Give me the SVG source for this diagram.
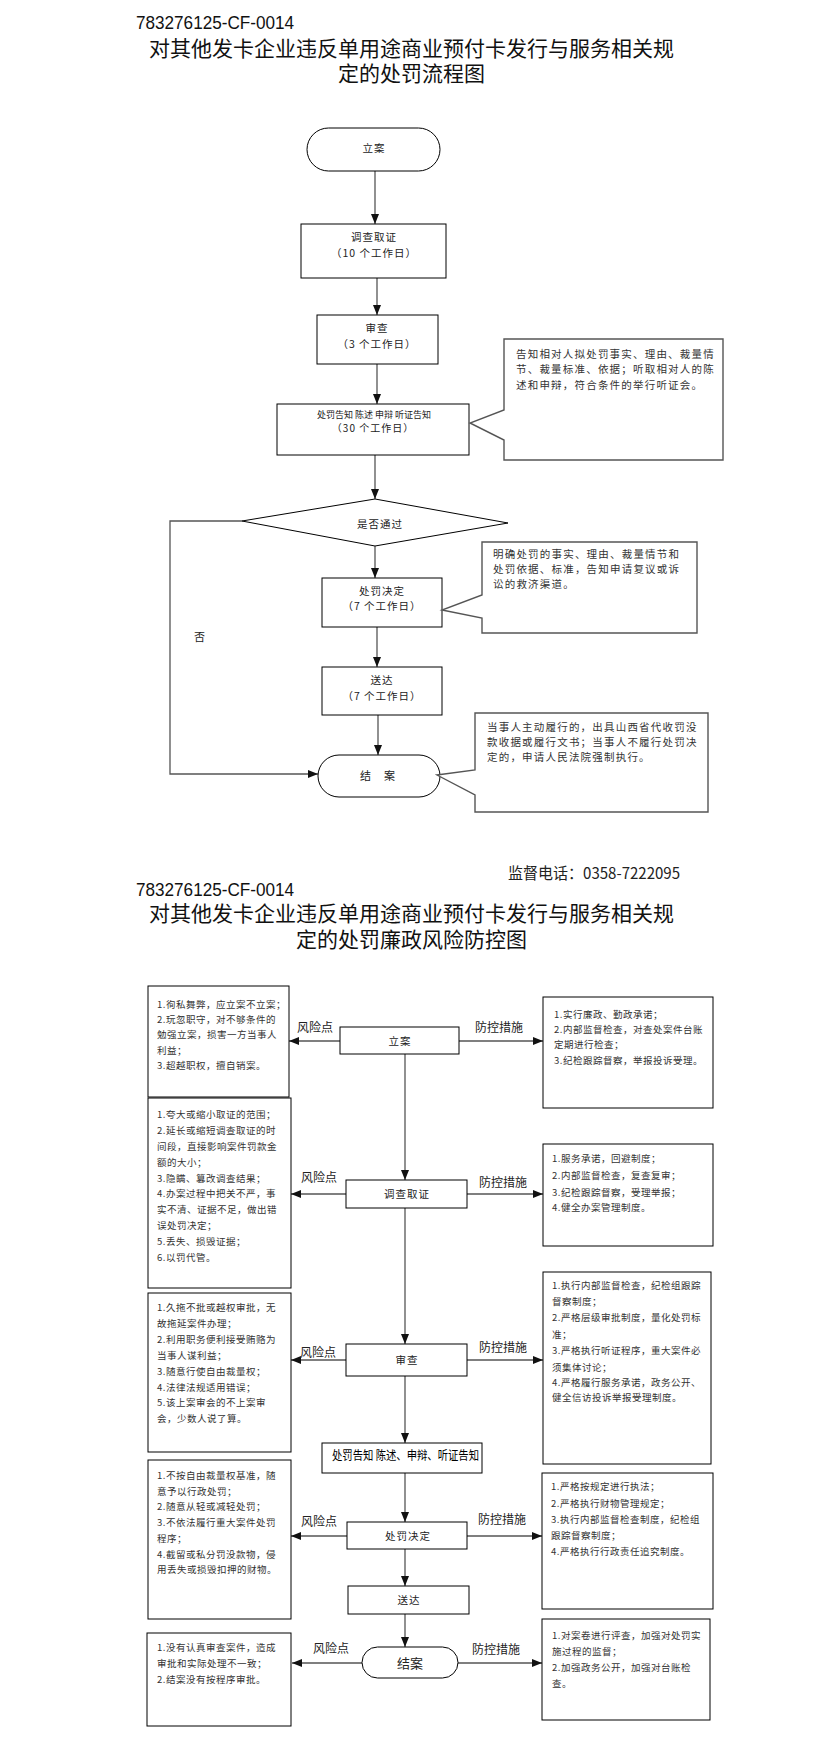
<svg xmlns="http://www.w3.org/2000/svg" width="823" height="1741" viewBox="0 0 823 1741">
<style>
text{font-family:"Noto Sans CJK SC","Noto Sans",sans-serif;fill:#222}
.h{font-size:21px;text-anchor:middle;fill:#111}
.code{font-family:"Liberation Sans",sans-serif;font-size:19px;fill:#111}
.n{font-size:10.5px;letter-spacing:1px;text-anchor:middle}
.c{font-size:10.5px;letter-spacing:1.2px;fill:#333}
.s{font-size:9.5px;letter-spacing:.5px;fill:#333}
.lab{font-size:12px;text-anchor:middle}
.m{font-size:11px;letter-spacing:1px;text-anchor:middle}
.bx{fill:#fff;stroke:#000;stroke-width:1}
.co{fill:#fff;stroke:#555;stroke-width:1.4}
.ln{stroke:#555;stroke-width:1.3;fill:none}
</style>
<defs>
<marker id="ar" markerUnits="userSpaceOnUse" markerWidth="10" markerHeight="8" refX="10" refY="4" orient="auto">
<path d="M0,0 L10,4 L0,8 z" fill="#111"/>
</marker>
</defs>
<rect width="823" height="1741" fill="#fff"/>

<!-- Top title -->
<text class="code" x="136" y="29" textLength="158" lengthAdjust="spacingAndGlyphs">783276125-CF-0014</text>
<text class="h" x="411.5" y="56">对其他发卡企业违反单用途商业预付卡发行与服务相关规</text>
<text class="h" x="411.5" y="81">定的处罚流程图</text>

<!-- Top flowchart connectors -->
<g id="connectors-top">
<line class="ln" x1="375" y1="171" x2="375" y2="224" marker-end="url(#ar)"/>
<line class="ln" x1="377" y1="278" x2="377" y2="315" marker-end="url(#ar)"/>
<line class="ln" x1="377" y1="364" x2="377" y2="404" marker-end="url(#ar)"/>
<line class="ln" x1="375" y1="455" x2="375" y2="499" marker-end="url(#ar)"/>
<line class="ln" x1="375" y1="546" x2="375" y2="578" marker-end="url(#ar)"/>
<line class="ln" x1="377" y1="627" x2="377" y2="667" marker-end="url(#ar)"/>
<line class="ln" x1="378" y1="715" x2="378" y2="755" marker-end="url(#ar)"/>
<polyline class="ln" points="242,521 170,521 170,774 318,774" marker-end="url(#ar)"/>
</g>

<g id="t-lian">
<rect class="bx" x="307" y="128" width="133" height="43" rx="21.5"/>
<text class="n" x="374" y="152">立案</text>
</g>
<g id="t-diaocha">
<rect class="bx" x="301" y="224" width="145" height="54"/>
<text class="n" x="374" y="241">调查取证</text>
<text class="n" x="374" y="257">（10 个工作日）</text>
</g>
<g id="t-shencha">
<rect class="bx" x="317" y="315" width="121" height="49"/>
<text class="n" x="377" y="332">审查</text>
<text class="n" x="377" y="348">（3 个工作日）</text>
</g>
<g id="t-gaozhi">
<rect class="bx" x="277" y="404" width="192" height="51"/>
<text x="374" y="418" style="font-size:9px;text-anchor:middle">处罚告知 陈述 申辩 听证告知</text>
<text class="n" x="373" y="432" style="font-size:10px">（30 个工作日）</text>
</g>
<g id="t-callout1">
<path class="co" d="M504,339 H723 V460 H504 V440 L470,423 L504,410 Z"/>
<text class="c" x="516" y="358">告知相对人拟处罚事实、理由、裁量情</text>
<text class="c" x="516" y="373">节、裁量标准、依据；听取相对人的陈</text>
<text class="c" x="516" y="389">述和申辩，符合条件的举行听证会。</text>
</g>
<g id="t-decision">
<polygon class="bx" points="375,499 508,523 375,546 242,521"/>
<text class="n" x="380" y="528">是否通过</text>
</g>
<text class="m" x="200" y="641">否</text>
<g id="t-jueding">
<rect class="bx" x="322" y="578" width="120" height="49"/>
<text class="n" x="382" y="595">处罚决定</text>
<text class="n" x="382" y="610">（7 个工作日）</text>
</g>
<g id="t-callout2">
<path class="co" d="M482,542 H697 V633 H482 V618 L442,610 L482,595 Z"/>
<text class="c" x="493" y="558">明确处罚的事实、理由、裁量情节和</text>
<text class="c" x="493" y="573">处罚依据、标准，告知申请复议或诉</text>
<text class="c" x="493" y="588">讼的救济渠道。</text>
</g>
<g id="t-songda">
<rect class="bx" x="322" y="667" width="120" height="48"/>
<text class="n" x="382" y="684">送达</text>
<text class="n" x="382" y="700">（7 个工作日）</text>
</g>
<g id="t-jiean">
<rect class="bx" x="318" y="755" width="122" height="42" rx="21"/>
<text class="m" x="378" y="780">结　案</text>
</g>
<g id="t-callout3">
<path class="co" d="M475,713 H708 V812 H475 V795 L437,775 L475,770 Z"/>
<text class="c" x="487" y="731">当事人主动履行的，出具山西省代收罚没</text>
<text class="c" x="487" y="746">款收据或履行文书；当事人不履行处罚决</text>
<text class="c" x="487" y="761">定的，申请人民法院强制执行。</text>
</g>

<!-- Lower section -->
<text x="508" y="879" style="font-size:15.5px" textLength="172" lengthAdjust="spacingAndGlyphs">监督电话：0358-7222095</text>
<text class="code" x="136" y="896" textLength="158" lengthAdjust="spacingAndGlyphs">783276125-CF-0014</text>
<text class="h" x="411.5" y="921">对其他发卡企业违反单用途商业预付卡发行与服务相关规</text>
<text class="h" x="411.5" y="947">定的处罚廉政风险防控图</text>

<g id="connectors-bottom">
<line class="ln" x1="405" y1="1054" x2="405" y2="1180" marker-end="url(#ar)"/>
<line class="ln" x1="405" y1="1208" x2="405" y2="1344" marker-end="url(#ar)"/>
<line class="ln" x1="405" y1="1376" x2="405" y2="1443" marker-end="url(#ar)"/>
<line class="ln" x1="405" y1="1473" x2="405" y2="1522" marker-end="url(#ar)"/>
<line class="ln" x1="405" y1="1549" x2="405" y2="1586" marker-end="url(#ar)"/>
<line class="ln" x1="405" y1="1614" x2="405" y2="1647" marker-end="url(#ar)"/>
<line class="ln" x1="340" y1="1041" x2="289" y2="1041" marker-end="url(#ar)"/>
<line class="ln" x1="459" y1="1041" x2="543" y2="1041" marker-end="url(#ar)"/>
<line class="ln" x1="346" y1="1194" x2="291" y2="1194" marker-end="url(#ar)"/>
<line class="ln" x1="467" y1="1194" x2="543" y2="1194" marker-end="url(#ar)"/>
<line class="ln" x1="346" y1="1360" x2="291" y2="1360" marker-end="url(#ar)"/>
<line class="ln" x1="467" y1="1360" x2="543" y2="1360" marker-end="url(#ar)"/>
<line class="ln" x1="347" y1="1536" x2="291" y2="1536" marker-end="url(#ar)"/>
<line class="ln" x1="467" y1="1536" x2="542" y2="1536" marker-end="url(#ar)"/>
<line class="ln" x1="362" y1="1663" x2="292" y2="1663" marker-end="url(#ar)"/>
<line class="ln" x1="458" y1="1663" x2="542" y2="1663" marker-end="url(#ar)"/>
<text class="lab" x="315" y="1032">风险点</text>
<text class="lab" x="499" y="1032">防控措施</text>
<text class="lab" x="319" y="1182">风险点</text>
<text class="lab" x="503" y="1187">防控措施</text>
<text class="lab" x="318" y="1357">风险点</text>
<text class="lab" x="503" y="1352">防控措施</text>
<text class="lab" x="319" y="1526">风险点</text>
<text class="lab" x="502" y="1524">防控措施</text>
<text class="lab" x="331" y="1653">风险点</text>
<text class="lab" x="496" y="1654">防控措施</text>
</g>

<g id="b-lian">
<rect class="bx" x="340" y="1027" width="119" height="27"/>
<text class="n" x="400" y="1045">立案</text>
</g>
<g id="b-diaocha">
<rect class="bx" x="346" y="1180" width="121" height="28"/>
<text class="n" x="407" y="1198">调查取证</text>
</g>
<g id="b-shencha">
<rect class="bx" x="346" y="1344" width="121" height="32"/>
<text class="n" x="407" y="1364">审查</text>
</g>
<g id="b-gaozhi">
<rect class="bx" x="322" y="1443" width="160" height="30"/>
<text x="332" y="1460" style="font-size:12.5px;fill:#000" textLength="147" lengthAdjust="spacingAndGlyphs">处罚告知 陈述、申辩、听证告知</text>
</g>
<g id="b-jueding">
<rect class="bx" x="347" y="1522" width="120" height="27"/>
<text class="n" x="408" y="1540">处罚决定</text>
</g>
<g id="b-songda">
<rect class="bx" x="348" y="1586" width="121" height="28"/>
<text class="n" x="409" y="1604">送达</text>
</g>
<g id="b-jiean">
<rect class="bx" x="362" y="1647" width="96" height="31" rx="15.5"/>
<text x="410" y="1668" style="font-size:13px;text-anchor:middle">结案</text>
</g>

<g id="risk1">
<rect class="bx" x="148" y="986" width="141" height="111"/>
<text class="s" x="157" y="1008">1.徇私舞弊，应立案不立案；</text>
<text class="s" x="157" y="1023">2.玩忽职守，对不够条件的</text>
<text class="s" x="157" y="1038">勉强立案，损害一方当事人</text>
<text class="s" x="157" y="1054">利益；</text>
<text class="s" x="157" y="1069">3.超越职权，擅自销案。</text>
</g>
<g id="ctrl1">
<rect class="bx" x="543" y="997" width="170" height="111"/>
<text class="s" x="554" y="1018">1.实行廉政、勤政承诺；</text>
<text class="s" x="554" y="1033">2.内部监督检查，对查处案件台账</text>
<text class="s" x="554" y="1048">定期进行检查；</text>
<text class="s" x="554" y="1064">3.纪检跟踪督察，举报投诉受理。</text>
</g>
<g id="risk2">
<rect class="bx" x="148" y="1098" width="143" height="190"/>
<text class="s" x="157" y="1118">1.夸大或缩小取证的范围；</text>
<text class="s" x="157" y="1134">2.延长或缩短调查取证的时</text>
<text class="s" x="157" y="1150">间段，直接影响案件罚款金</text>
<text class="s" x="157" y="1166">额的大小；</text>
<text class="s" x="157" y="1182">3.隐瞒、篡改调查结果；</text>
<text class="s" x="157" y="1197">4.办案过程中把关不严，事</text>
<text class="s" x="157" y="1213">实不清、证据不足，做出错</text>
<text class="s" x="157" y="1229">误处罚决定；</text>
<text class="s" x="157" y="1245">5.丢失、损毁证据；</text>
<text class="s" x="157" y="1261">6.以罚代管。</text>
</g>
<g id="ctrl2">
<rect class="bx" x="543" y="1144" width="170" height="102"/>
<text class="s" x="552" y="1162">1.服务承诺，回避制度；</text>
<text class="s" x="552" y="1179">2.内部监督检查，复查复审；</text>
<text class="s" x="552" y="1196">3.纪检跟踪督察，受理举报；</text>
<text class="s" x="552" y="1211">4.健全办案管理制度。</text>
</g>
<g id="risk3">
<rect class="bx" x="148" y="1293" width="143" height="159"/>
<text class="s" x="157" y="1311">1.久拖不批或越权审批，无</text>
<text class="s" x="157" y="1327">故拖延案件办理；</text>
<text class="s" x="157" y="1343">2.利用职务便利接受贿赂为</text>
<text class="s" x="157" y="1359">当事人谋利益；</text>
<text class="s" x="157" y="1375">3.随意行使自由裁量权；</text>
<text class="s" x="157" y="1391">4.法律法规适用错误；</text>
<text class="s" x="157" y="1406">5.该上案审会的不上案审</text>
<text class="s" x="157" y="1422">会，少数人说了算。</text>
</g>
<g id="ctrl3">
<rect class="bx" x="543" y="1272" width="168" height="192"/>
<text class="s" x="552" y="1289">1.执行内部监督检查，纪检组跟踪</text>
<text class="s" x="552" y="1305">督察制度；</text>
<text class="s" x="552" y="1321">2.严格层级审批制度，量化处罚标</text>
<text class="s" x="552" y="1338">准；</text>
<text class="s" x="552" y="1354">3.严格执行听证程序，重大案件必</text>
<text class="s" x="552" y="1371">须集体讨论；</text>
<text class="s" x="552" y="1386">4.严格履行服务承诺，政务公开、</text>
<text class="s" x="552" y="1401">健全信访投诉举报受理制度。</text>
</g>
<g id="risk4">
<rect class="bx" x="148" y="1460" width="143" height="159"/>
<text class="s" x="157" y="1479">1.不按自由裁量权基准，随</text>
<text class="s" x="157" y="1495">意予以行政处罚；</text>
<text class="s" x="157" y="1510">2.随意从轻或减轻处罚；</text>
<text class="s" x="157" y="1526">3.不依法履行重大案件处罚</text>
<text class="s" x="157" y="1542">程序；</text>
<text class="s" x="157" y="1558">4.截留或私分罚没款物，侵</text>
<text class="s" x="157" y="1573">用丢失或损毁扣押的财物。</text>
</g>
<g id="ctrl4">
<rect class="bx" x="542" y="1473" width="171" height="136"/>
<text class="s" x="551" y="1490">1.严格按规定进行执法；</text>
<text class="s" x="551" y="1507">2.严格执行财物管理规定；</text>
<text class="s" x="551" y="1523">3.执行内部监督检查制度，纪检组</text>
<text class="s" x="551" y="1539">跟踪督察制度；</text>
<text class="s" x="551" y="1555">4.严格执行行政责任追究制度。</text>
</g>
<g id="risk5">
<rect class="bx" x="147" y="1633" width="144" height="93"/>
<text class="s" x="157" y="1651">1.没有认真审查案件，造成</text>
<text class="s" x="157" y="1667">审批和实际处理不一致；</text>
<text class="s" x="157" y="1683">2.结案没有按程序审批。</text>
</g>
<g id="ctrl5">
<rect class="bx" x="542" y="1619" width="168" height="101"/>
<text class="s" x="552" y="1639">1.对案卷进行评查，加强对处罚实</text>
<text class="s" x="552" y="1655">施过程的监督；</text>
<text class="s" x="552" y="1671">2.加强政务公开，加强对台账检</text>
<text class="s" x="552" y="1687">查。</text>
</g>
</svg>
